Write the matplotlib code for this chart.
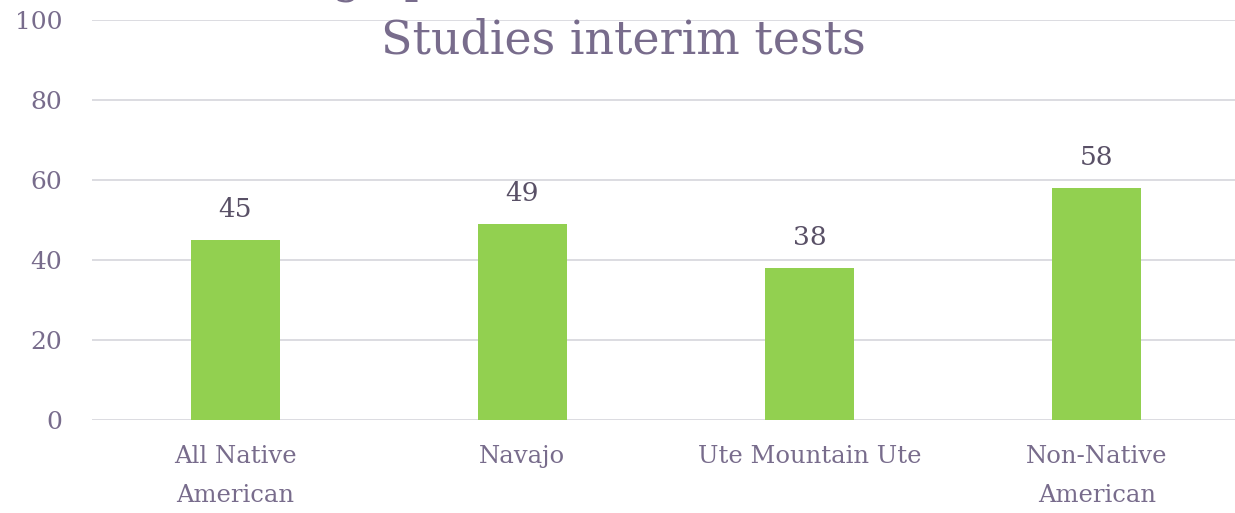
import numpy as np
import matplotlib.pyplot as plt

# data
categories = ['All Native\nAmerican', 'Navajo', 'Ute Mountain Ute', 'Non-Native\nAmerican']
values = [45, 49, 38, 58]
yticks = [0, 20, 40, 60, 80, 100]
title1 = 'Percentage proficient or above on Social'
title2 = 'Studies interim tests'

txt = '#786C8C'
lbl = '#595066'
bar_c = '#92D050'
grid_c = '#D9D9DE'
fam = ['DejaVu Serif']

W, H = 1235, 513
fig = plt.figure(figsize=(W / 100, H / 100), dpi=100)
ax = fig.add_axes([91.5 / W, (H - 420) / H, 1149 / W, 400 / H])

x = np.arange(len(categories))
bars = ax.bar(x, values, width=0.31, color=bar_c, zorder=2)
for b, v in zip(bars, values):
    ax.annotate(str(v), (b.get_x() + b.get_width() / 2, v), xytext=(0, 13),
                textcoords='offset points', ha='center', va='bottom',
                fontsize=19, color=lbl, family=fam)

ax.set_xlim(-0.5, 3.5)
ax.set_ylim(0, 100)
ax.set_yticks(yticks)
ax.set_xticks(x)
ax.set_xticklabels(categories, fontsize=17.5, color=txt, family=fam, linespacing=1.9)
ax.tick_params(axis='y', labelsize=18, labelcolor=txt, length=0, pad=21)
ax.tick_params(axis='x', length=0, pad=18)
for t in ax.get_yticklabels():
    t.set_family(fam)
ax.grid(axis='y', color=grid_c, linewidth=1.3, zorder=0)
for s in ax.spines.values():
    s.set_visible(False)

# first title line sits mostly above the top edge, as in the original slide
fig.text(600 / W, 1 + 9 / H, title1, ha='center', va='baseline',
         fontsize=33, color=txt, family=fam)
fig.text(623 / W, 1 - 54 / H, title2, ha='center', va='baseline',
         fontsize=33, color=txt, family=fam)

fig.savefig('out.png', dpi=100)
